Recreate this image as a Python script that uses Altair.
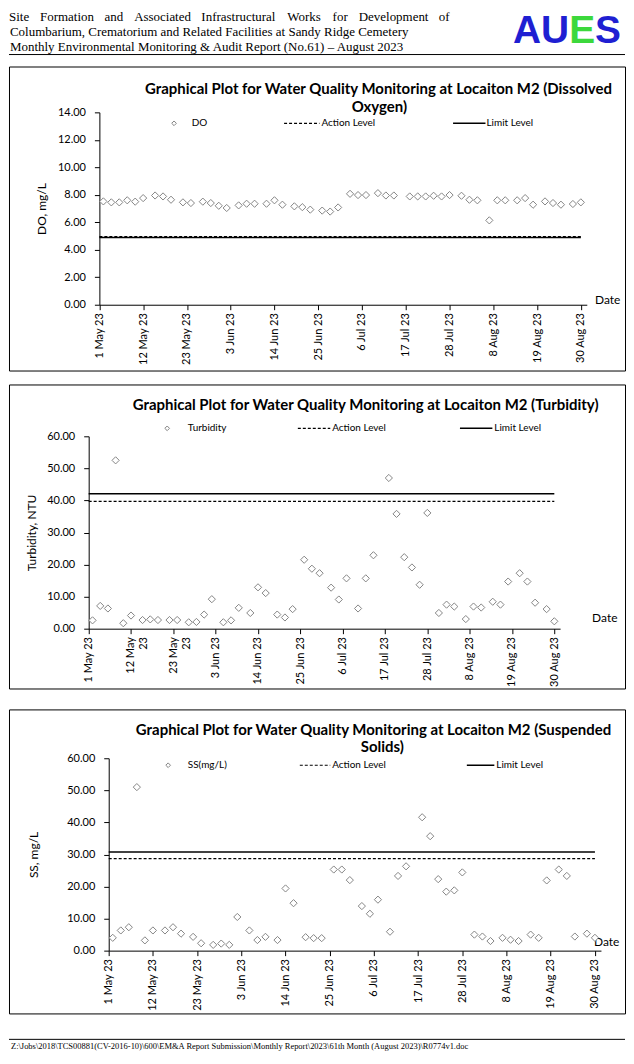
import json
import altair as alt
import pandas as pd

# ---------------- data ----------------
dates = [
    "2023-05-02", "2023-05-04", "2023-05-06", "2023-05-08", "2023-05-10", "2023-05-12",
    "2023-05-15", "2023-05-17", "2023-05-19", "2023-05-22", "2023-05-24", "2023-05-27",
    "2023-05-29", "2023-05-31",
    "2023-06-02", "2023-06-05", "2023-06-07", "2023-06-09", "2023-06-12", "2023-06-14",
    "2023-06-16", "2023-06-19", "2023-06-21", "2023-06-23", "2023-06-26", "2023-06-28",
    "2023-06-30",
    "2023-07-03", "2023-07-05", "2023-07-07", "2023-07-10", "2023-07-12", "2023-07-14",
    "2023-07-18", "2023-07-20", "2023-07-22", "2023-07-24", "2023-07-26", "2023-07-28",
    "2023-07-31",
    "2023-08-02", "2023-08-04", "2023-08-07", "2023-08-09", "2023-08-11", "2023-08-14",
    "2023-08-16", "2023-08-18", "2023-08-21", "2023-08-23", "2023-08-25", "2023-08-28",
    "2023-08-30",
]

do_values = [
    7.52, 7.45, 7.45, 7.60, 7.50, 7.76, 7.95, 7.88, 7.64, 7.45, 7.40, 7.50, 7.40, 7.20,
    7.04, 7.23, 7.35, 7.35, 7.35, 7.60, 7.28, 7.16, 7.10, 6.92, 6.85, 6.78, 7.08,
    8.07, 7.98, 7.98, 8.12, 7.95, 7.95, 7.88, 7.88, 7.88, 7.93, 7.88, 7.98, 7.93,
    7.64, 7.60, 6.14, 7.60, 7.60, 7.60, 7.76, 7.28, 7.52, 7.40, 7.28, 7.33, 7.45,
]

turbidity_values = [
    2.6, 7.1, 6.3, 52.5, 1.7, 4.1, 2.7, 2.9, 2.7, 2.7, 2.7, 2.0, 2.1, 4.4,
    9.2, 2.0, 2.6, 6.5, 4.9, 12.9, 11.1, 4.4, 3.5, 6.1, 21.5, 18.7, 17.3,
    12.8, 9.1, 15.7, 6.3, 15.7, 22.9, 47.0, 35.8, 22.3, 19.1, 13.7, 36.1, 4.9,
    7.5, 6.9, 3.0, 6.9, 6.6, 8.4, 7.5, 14.7, 17.3, 14.7, 8.1, 6.1, 2.3,
]

ss_values = [
    4.0, 6.3, 7.3, 51.0, 3.2, 6.3, 6.3, 7.3, 5.3, 4.3, 2.3, 1.8, 2.2, 1.8,
    10.5, 6.3, 3.3, 4.3, 3.3, 19.4, 14.8, 4.2, 3.9, 3.9, 25.3, 25.3, 22.0,
    13.9, 11.5, 15.9, 5.9, 23.3, 26.3, 41.6, 35.7, 22.3, 18.4, 18.8, 24.4, 5.0,
    4.4, 3.0, 4.0, 3.4, 3.0, 5.0, 4.0, 21.9, 25.3, 23.3, 4.4, 5.3, 4.0,
]

do_action_level = 4.95
do_limit_level = 4.90
turbidity_action_level = 39.7
turbidity_limit_level = 42.1
ss_action_level = 28.7
ss_limit_level = 30.8
level_dates = ["2023-05-01", "2023-08-30"]

tick_dates = [
    "2023-05-01", "2023-05-12", "2023-05-23", "2023-06-03", "2023-06-14", "2023-06-25",
    "2023-07-06", "2023-07-17", "2023-07-28", "2023-08-08", "2023-08-19", "2023-08-30",
]
tick_labels = [
    "1 May 23", "12 May 23", "23 May 23", "3 Jun 23", "14 Jun 23", "25 Jun 23",
    "6 Jul 23", "17 Jul 23", "28 Jul 23", "8 Aug 23", "19 Aug 23", "30 Aug 23",
]
tick_labels_wrapped = [
    "1 May 23", ["12 May", "23"], ["23 May", "23"], "3 Jun 23", "14 Jun 23", "25 Jun 23",
    "6 Jul 23", "17 Jul 23", "28 Jul 23", "8 Aug 23", "19 Aug 23", "30 Aug 23",
]
do_y_ticks = [0, 2, 4, 6, 8, 10, 12, 14]
sixty_y_ticks = [0, 10, 20, 30, 40, 50, 60]

header_words = ["Site", "Formation", "and", "Associated", "Infrastructural", "Works",
                "for", "Development", "of"]
header_line2 = "Columbarium, Crematorium and Related Facilities at Sandy Ridge Cemetery"
header_line3 = "Monthly Environmental Monitoring & Audit Report (No.61) \u2013 August 2023"
footer_text = (r"Z:\Jobs\2018\TCS00881(CV-2016-10)\600\EM&A Report Submission"
               r"\Monthly Report\2023\61th Month (August 2023)\R0774v1.doc")

# ---------------- layout ----------------
FONT = "Lato"
SERIF = "Liberation Serif"
BOX_W, BOX_H = 618, 305
F = BOX_W / 627.0


def lx(rx):
    return (rx - 5) * F


# justified first header line: left edge of each word (reference px)
header_word_x = [5, 36.6, 102.2, 132.4, 200.8, 288.3, 334.4, 361.0, 442.4]
POINT_GREY = "#858585"
HDR = 3  # header pushed slightly towards the first box


def dt(s, hours=0):
    y, m, d = (int(v) for v in s.split("-"))
    return alt.DateTime(year=y, month=m, date=d, hours=hours, utc=True)


def one():
    return alt.Chart(pd.DataFrame({"k": [0]}))


def text_at(s, x, y, size, weight="normal", align="left", color="black",
            font=FONT, baseline="middle"):
    return one().mark_text(
        text=s, fontSize=size, fontWeight=weight, align=align, baseline=baseline,
        color=color, font=font,
    ).encode(x=alt.value(x), y=alt.value(y))


def hrule(x1, x2, y, width=1.0, dash=None):
    kw = dict(color="black", strokeWidth=width)
    if dash:
        kw["strokeDash"] = dash
    return one().mark_rule(**kw).encode(x=alt.value(x1), x2=alt.value(x2), y=alt.value(y))


def panel(values, action, limit, yticks, name, ytitle, title_lines, g, labels, extras=()):
    df = pd.DataFrame({"date": dates, "value": values})
    label_expr = (json.dumps(labels) + "[indexof(" + json.dumps(tick_dates)
                  + ", utcFormat(datum.value, '%Y-%m-%d'))]")
    x_enc = alt.X(
        "date:T",
        scale=alt.Scale(type="utc", domain=[dt("2023-05-01"), dt("2023-08-31", 12)],
                        range=[g["x0"], g["x1"]]),
        axis=alt.Axis(
            values=[dt(s) for s in tick_dates], labelExpr=label_expr, labelAngle=-90,
            labelPadding=3, labelFlush=False, labelOverlap=False, tickSize=5,
            offset=-(BOX_H - g["y0"]), title="Date", titleAngle=0,
            titleX=g["date_x"], titleY=g["date_y"] - g["y0"], titleAlign="left",
            titleBaseline="middle", titleFontSize=12, titleFontWeight="normal", grid=False,
        ),
    )
    y_enc = alt.Y(
        "value:Q",
        scale=alt.Scale(domain=[0, yticks[-1]], range=[g["y0"], g["y1"]], nice=False),
        axis=alt.Axis(
            values=yticks, format=".2f", offset=-g["x0"], tickSize=5, labelPadding=9,
            labelOverlap=False, title=ytitle, titleAngle=-90, titleX=g["ytx"] - g["x0"],
            titleY=(g["y0"] + g["y1"]) / 2, titleAlign="center", titleBaseline="middle",
            titleFontSize=12, titleFontWeight="normal", grid=False,
        ),
    )
    lim_df = pd.DataFrame({"date": [level_dates[0]], "date2": [level_dates[1]], "value": [limit]})
    act_df = pd.DataFrame({"date": [level_dates[0]], "date2": [level_dates[1]], "value": [action]})
    limit_layer = alt.Chart(lim_df).mark_rule(color="black", strokeWidth=1.5).encode(
        x=x_enc, x2="date2:T", y=y_enc)
    action_layer = alt.Chart(act_df).mark_rule(
        color="black", strokeWidth=1.3, strokeDash=[3, 2]).encode(x=x_enc, x2="date2:T", y=y_enc)
    points = alt.Chart(df).mark_point(
        shape="diamond", size=52, filled=True, fill="white", stroke=POINT_GREY,
        strokeWidth=1, opacity=1,
    ).encode(x=x_enc, y=y_enc)

    layers = [limit_layer, action_layer, points]
    for i, line in enumerate(title_lines):
        layers.append(text_at(line, g["tx"][i], g["ty"][i], 15, weight="bold", align="center"))
    ly = g["ly"]
    lg = g["legend"]
    layers.append(one().mark_point(
        shape="diamond", size=22, filled=True, fill="white", stroke=POINT_GREY,
        strokeWidth=1, opacity=1).encode(x=alt.value(lg[0]), y=alt.value(ly)))
    layers.append(text_at(name, lg[1], ly, 10))
    layers.append(hrule(lg[2], lg[3], ly, 1.2, [3, 2]))
    layers.append(text_at("Action Level", lg[4], ly, 10))
    layers.append(hrule(lg[5], lg[6], ly, 1.5))
    layers.append(text_at("Limit Level", lg[7], ly, 10))
    layers.extend(extras)
    return alt.layer(*layers).properties(width=BOX_W, height=BOX_H)


# ---------- panel geometries (local px, box top-left = 0,0) ----------
g1 = dict(
    x0=lx(97), x1=lx(97) + 122.5 * 4.05 * F, y0=301 - 62, y1=108 - 62,
    tx=[lx(381), lx(382)], ty=[23, 41], ly=57,
    legend=[lx(173), lx(191), lx(285), lx(321), lx(323), lx(457), lx(490), lx(491)],
    ytx=lx(38), date_x=lx(601), date_y=296 - 62,
)
g2 = dict(
    x0=lx(86.1), x1=lx(86.1) + 122.5 * 3.917 * F, y0=627 - 382, y1=434 - 382,
    tx=[lx(368)], ty=[21], ly=44,
    legend=[lx(166), lx(187), lx(299), lx(332), lx(334), lx(464), lx(497), lx(499)],
    ytx=lx(28), date_x=lx(598), date_y=616 - 382,
)
g3 = dict(
    x0=lx(106.5), x1=lx(106.5) + 122.5 * 4.09 * F, y0=954 - 712, y1=761 - 712,
    tx=[lx(376), lx(385)], ty=[21, 38], ly=56,
    legend=[lx(167), lx(187), lx(301), lx(332), lx(334), lx(471), lx(499), lx(501)],
    ytx=lx(30), date_x=lx(600), date_y=945 - 712,
)

# header (drawn above panel 1 box) and footer (below panel 3 box)
header = [text_at(w, lx(x), -53 + HDR, 13, font=SERIF)
          for w, x in zip(header_words, header_word_x)]
header += [
    text_at(header_line2, lx(6), -38 + HDR, 13, font=SERIF),
    text_at(header_line3, lx(6), -23 + HDR, 13, font=SERIF),
    hrule(0, BOX_W, -15 + HDR, 1.0),
    text_at("AU", lx(518), -27 + HDR, 39, weight="bold", color="#1F1FD2",
            font="Liberation Sans", baseline="alphabetic"),
    text_at("E", lx(518) + 1.444 * 39, -27 + HDR, 39, weight="bold", color="#3CD83C",
            font="Liberation Sans", baseline="alphabetic"),
    text_at("S", lx(518) + 2.111 * 39, -27 + HDR, 39, weight="bold", color="#1F1FD2",
            font="Liberation Sans", baseline="alphabetic"),
]
footer = [
    hrule(0, BOX_W, BOX_H + 26, 1.0),
    text_at(footer_text, lx(7), BOX_H + 33, 8.5, font=SERIF),
]

p1 = panel(do_values, do_action_level, do_limit_level, do_y_ticks, "DO", "DO, mg/L",
           ["Graphical Plot for Water Quality Monitoring at Locaiton M2  (Dissolved", "Oxygen)"],
           g1, tick_labels, header)
p2 = panel(turbidity_values, turbidity_action_level, turbidity_limit_level, sixty_y_ticks,
           "Turbidity", "Turbidity, NTU",
           ["Graphical Plot for Water Quality Monitoring at Locaiton M2 (Turbidity)"],
           g2, tick_labels_wrapped)
p3 = panel(ss_values, ss_action_level, ss_limit_level, sixty_y_ticks, "SS(mg/L)", "SS, mg/L",
           ["Graphical Plot for Water Quality Monitoring at Locaiton M2  (Suspended", "Solids)"],
           g3, tick_labels, footer)

chart = alt.vconcat(alt.vconcat(p1, p2, spacing=12), p3, spacing=19).properties(
    padding=0, background="white"
).configure_view(
    stroke="black", strokeWidth=1
).configure_axis(
    labelFont=FONT, titleFont=FONT, labelFontSize=11, labelColor="black",
    titleColor="black", domainColor="black", tickColor="black", domainWidth=1,
)

chart.save("out.html", embed_options={"renderer": "svg", "actions": False})
